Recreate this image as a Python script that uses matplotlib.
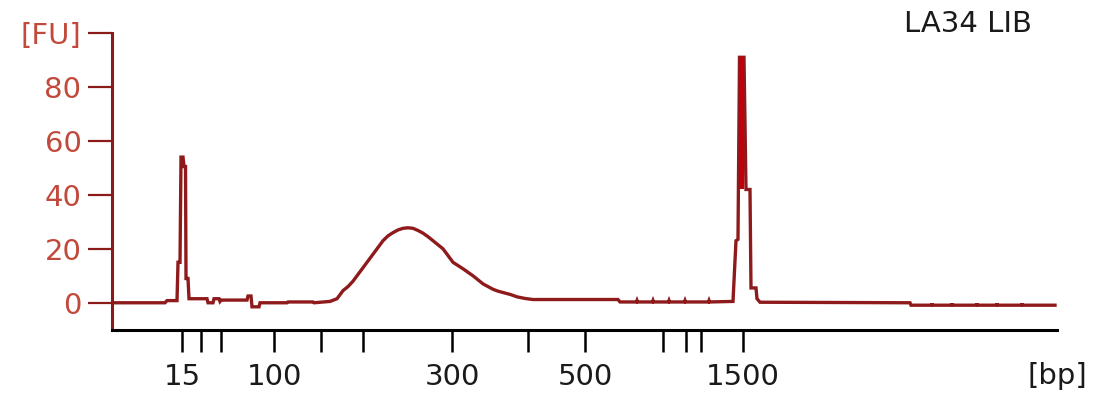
import matplotlib
matplotlib.use('Agg')
from matplotlib import pyplot as plt

# Electropherogram trace: migration time [s] vs fluorescence [FU]
time_s = [20.0, 25.3, 25.5, 26.5, 26.6, 26.8, 26.9, 27.1, 27.2, 27.35, 27.4, 27.6,
          27.7, 29.5, 29.6, 30.1, 30.2, 30.7, 30.8, 30.9, 33.5, 33.6, 33.9, 34.0,
          34.7, 34.8, 37.5, 37.6, 40.1, 40.2, 41.8, 42.5, 43.1, 43.6, 44.1, 44.6,
          45.1, 45.6, 46.1, 46.6, 47.1, 47.6, 48.1, 48.6, 49.1, 49.6, 50.1, 50.6,
          51.1, 51.6, 52.1, 52.6, 53.1, 53.6, 54.1, 54.6, 55.1, 55.6, 56.1, 56.6,
          57.1, 57.6, 58.1, 58.6, 59.1, 59.6, 59.9, 60.5, 61.3, 62.1, 70.6, 70.8,
          72.45, 72.5, 72.55, 74.05, 74.1, 74.15, 75.65, 75.7, 75.75, 77.25, 77.3, 77.35,
          79.65, 79.7, 79.75, 82.1, 82.2, 82.4, 82.6, 82.75, 83.2, 83.4, 83.8, 83.9,
          84.4, 84.5, 84.8, 99.8, 99.9, 101.95, 102.0, 102.05, 103.95, 104.0, 104.05,
          106.45, 106.5, 106.55, 108.45, 108.5, 108.55, 110.95, 111.0, 111.05, 114.3]
fu = [0.0, 0.0, 0.8, 0.8, 15.0, 15.0, 54.0, 54.0, 50.5, 50.5, 9.0, 9.0,
      1.5, 1.5, 0.0, 0.0, 1.5, 1.5, 0.5, 1.0, 1.0, 2.5, 2.5, -1.5,
      -1.5, 0.0, 0.0, 0.3, 0.3, 0.0, 0.5, 1.5, 4.5, 6.0, 8.0, 10.5,
      13.0, 15.5, 18.0, 20.5, 23.0, 24.8, 26.0, 27.0, 27.6, 27.8, 27.6, 26.8,
      25.8, 24.5, 23.0, 21.5, 20.0, 17.5, 15.0, 13.8, 12.6, 11.3, 10.0, 8.5,
      7.0, 6.0, 5.0, 4.3, 3.8, 3.3, 3.0, 2.2, 1.6, 1.2, 1.2, 0.3,
      0.3, 0.8, 0.3, 0.3, 0.8, 0.3, 0.3, 0.8, 0.3, 0.3, 0.8, 0.3,
      0.3, 0.8, 0.3, 0.5, 8.0, 23.0, 23.5, 91.0, 91.0, 42.0, 42.0, 5.5,
      5.5, 1.5, 0.2, 0.0, -0.9, -0.9, -0.3, -0.9, -0.9, -0.3, -0.9,
      -0.9, -0.3, -0.9, -0.9, -0.3, -0.9, -0.9, -0.3, -0.9, -0.9]

# Ladder sizes and their migration times (DNA 1000 ladder)
ladder_bp = [15, 25, 50, 100, 150, 200, 300, 400, 500, 700, 850, 1000, 1500]
ladder_time = [27.0, 28.9, 30.9, 36.2, 40.9, 45.1, 54.0, 61.6, 67.3, 75.1, 77.4, 78.9, 83.1]
labeled_bp = [15, 100, 300, 500, 1500]

fu_ticks = [0, 20, 40, 60, 80, 100]
fu_labels = ['0', '20', '40', '60', '80', '[FU]']

sample_name = 'LA34 LIB'

TRACE = '#8e1a1c'
PEAK_RED = '#c0000c'
AXIS_RED = '#8b1a1a'
LABEL_RED = '#c24a3c'

fig = plt.figure(figsize=(10.96, 3.94), dpi=100)
ax = fig.add_axes([0.1022, 0.1624, 0.9644 - 0.1022, 0.9162 - 0.1624])

ax.plot(time_s, fu, color=TRACE, linewidth=2.4, solid_joinstyle='miter')

# upper marker peak is drawn as a solid bright red bar
top_i = fu.index(max(fu))
ax.fill_between(time_s[top_i:top_i + 2], fu[top_i + 2], max(fu),
                color=PEAK_RED, linewidth=0, zorder=3)

ax.set_xlim(20.0, 114.5)
ax.set_ylim(-10.1, 100)

for side in ['top', 'right']:
    ax.spines[side].set_visible(False)
ax.spines['left'].set_color(AXIS_RED)
ax.spines['left'].set_linewidth(2.2)
ax.spines['bottom'].set_color('black')
ax.spines['bottom'].set_linewidth(2.2)

ax.set_yticks(fu_ticks)
ax.set_yticklabels(fu_labels)
ax.tick_params(axis='y', direction='out', length=17, width=1.6, color=AXIS_RED,
               labelcolor=LABEL_RED, labelsize=21, pad=5)

ax.set_xticks(ladder_time)
ax.set_xticklabels([str(b) if b in labeled_bp else '' for b in ladder_bp])
ax.tick_params(axis='x', direction='out', length=16, width=1.8, color='black',
               labelcolor='#1a1a1a', labelsize=21, pad=8)

fig.text(1057 / 1096, 1 - 376 / 394, '[bp]', ha='center', va='center',
         fontsize=21, color='#1a1a1a')
fig.text(968 / 1096, 1 - 24 / 394, sample_name, ha='center', va='center',
         fontsize=21, color='#1a1a1a')

fig.savefig('out.png', dpi=100)
